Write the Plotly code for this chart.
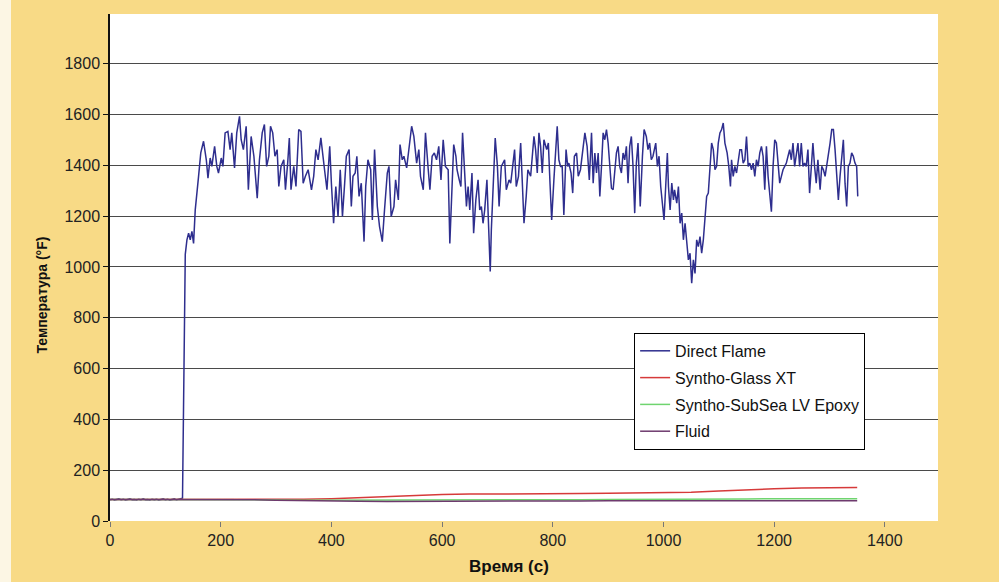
import plotly.graph_objects as go

# ---- Data ----
flame_time = [0, 4, 8, 12, 16, 20, 24, 28, 32, 36, 40, 44, 48, 52, 56, 60, 64, 68, 72, 76, 80, 84, 88, 92, 96, 100,
              104, 108, 112, 116, 120, 124, 128, 131,
              136, 139, 142, 145, 148, 151, 154, 157, 160, 164, 169, 174, 177, 181, 184, 189, 193, 196, 201, 204,
              208, 213, 217, 220, 225, 229, 234, 237, 241, 246, 250, 255, 260, 266, 270, 275, 279, 283, 287, 290,
              294, 298, 302, 305, 309, 314, 317, 321, 324, 327, 332, 336, 341, 345, 349, 353, 358,
              364, 368, 372, 376, 381, 385, 388, 392, 397, 400, 404, 408, 412, 416, 420, 424, 427, 432, 436, 439,
              443, 446, 450, 454, 459, 462, 466, 471, 474, 478, 483, 487, 492, 496, 501, 504, 508, 513, 516, 521,
              524, 528, 531, 536, 540, 545, 549, 554, 558, 561, 566, 570, 575, 578, 582, 586, 590, 594, 598, 602,
              606, 611, 614,
              617, 621, 625, 627, 631, 634, 637, 641, 644, 647, 650, 654, 657, 661, 665, 668, 671, 674, 677, 681,
              685, 687, 689, 692, 696, 700, 703, 707, 710, 713, 716, 721, 724, 728, 731, 734, 738, 742, 745, 748,
              752, 755, 760, 763, 766, 769, 772, 775, 778, 781, 784, 789, 792, 795, 798, 802, 805, 808, 811, 814,
              817, 820, 824, 827, 829, 833, 836, 839, 843, 846, 850, 854, 858, 862, 866,
              870, 873, 876, 879, 882, 885, 888, 891, 894, 897, 900, 903, 906, 909, 912, 915, 918, 921, 924, 927,
              930, 933, 936, 939, 942, 945, 948, 951, 954, 958, 962, 965, 969, 972, 975, 978, 981, 986, 989, 992,
              995, 998, 1001, 1004, 1007, 1009, 1012, 1015, 1018, 1020, 1024, 1027, 1030, 1033, 1036, 1039, 1042,
              1045, 1048, 1051, 1054, 1057, 1060, 1063, 1066, 1069, 1072, 1075, 1078, 1081, 1084, 1087, 1090, 1093,
              1096, 1099, 1102, 1105, 1108, 1111, 1115, 1118,
              1121, 1123, 1126, 1129, 1132, 1135, 1138, 1141, 1144, 1147, 1150, 1153, 1156, 1159, 1162, 1165, 1168,
              1171, 1174, 1177, 1180, 1183, 1186, 1189, 1192, 1195, 1198, 1201, 1204, 1207, 1210, 1213, 1216, 1219,
              1222, 1225, 1228, 1231, 1234, 1237, 1240, 1243, 1246, 1249, 1252, 1255, 1258, 1261, 1264, 1267, 1270,
              1273, 1276, 1279, 1283, 1286, 1289, 1292, 1295, 1298, 1301, 1304, 1307, 1310, 1313, 1316, 1319, 1322,
              1325, 1328, 1331, 1334, 1337, 1340, 1343, 1346, 1349, 1351]

flame_temp = [84, 86, 83, 85, 87, 84, 86, 83, 85, 87, 84, 85, 83, 86, 84, 87, 84, 85, 83, 86, 84, 86, 83, 85, 87, 84,
              86, 83, 85, 87, 84, 86, 88, 90,
              1050, 1107, 1133, 1107, 1140, 1093, 1225, 1304, 1357, 1449, 1495, 1422, 1350, 1429, 1396, 1475, 1396,
              1370, 1429, 1396, 1528, 1534, 1462, 1528, 1390, 1528, 1593, 1501, 1462, 1554, 1304, 1514, 1436, 1271,
              1422, 1528, 1561, 1396, 1436, 1554, 1528, 1436, 1462, 1317, 1396, 1422, 1304, 1409, 1508, 1304, 1396,
              1317, 1541, 1534, 1330, 1357, 1383,
              1304, 1357, 1462, 1422, 1508, 1422, 1376, 1304, 1475, 1330, 1172, 1317, 1199, 1383, 1199, 1330, 1436,
              1462, 1238, 1357, 1370, 1436, 1278, 1330, 1100, 1317, 1422, 1383, 1185, 1462, 1238, 1159, 1100, 1225,
              1370, 1396, 1199, 1238, 1343, 1264, 1482, 1422, 1436, 1390, 1462, 1554, 1514, 1409, 1462, 1357, 1304,
              1528, 1383, 1304, 1436, 1449, 1422, 1475, 1343, 1501, 1396, 1383, 1093,
              1264, 1482, 1436, 1383, 1343, 1317, 1528, 1357, 1238, 1317, 1225, 1370, 1133, 1264, 1343, 1225, 1238,
              1172, 1225, 1343, 1107, 982, 1146, 1291, 1508, 1396, 1238, 1396, 1409, 1422, 1304, 1343, 1330, 1422,
              1462, 1317, 1357, 1488, 1330, 1172, 1278, 1383, 1357, 1449, 1514, 1462, 1370, 1528, 1475, 1370, 1501,
              1462, 1488, 1330, 1185, 1343, 1462, 1554, 1422, 1396, 1396, 1205, 1462, 1396, 1409, 1370, 1291, 1436,
              1449, 1357, 1383, 1462, 1528, 1475, 1343,
              1528, 1330, 1449, 1370, 1449, 1278, 1396, 1528, 1501, 1541, 1488, 1396, 1310, 1304, 1396, 1449, 1475,
              1396, 1370, 1449, 1422, 1475, 1330, 1475, 1514, 1396, 1212, 1409, 1488, 1238, 1436, 1541, 1514, 1462,
              1488, 1422, 1436, 1488, 1396, 1436, 1317, 1238, 1185, 1317, 1449, 1317, 1225, 1330, 1264, 1304, 1251,
              1317, 1172, 1212, 1107, 1172, 1107, 1028, 1054, 936, 1028, 975, 1107, 1080, 1120, 1054, 1107, 1199,
              1278, 1291, 1396, 1488, 1462, 1383, 1396, 1488, 1528, 1541, 1567, 1488, 1449, 1396,
              1317, 1422, 1357, 1396, 1370, 1422, 1462, 1462, 1409, 1422, 1514, 1396, 1409, 1383, 1409, 1357, 1422,
              1396, 1449, 1475, 1436, 1304, 1475, 1357, 1291, 1218, 1396, 1501, 1488, 1396, 1330, 1357, 1383, 1396,
              1409, 1436, 1462, 1422, 1488, 1396, 1436, 1488, 1396, 1488, 1396, 1409, 1396, 1462, 1291, 1396, 1488,
              1396, 1330, 1422, 1304, 1396, 1383, 1357, 1396, 1436, 1488, 1541, 1541, 1462, 1343, 1264, 1357, 1436,
              1501, 1330, 1238, 1396, 1409, 1449, 1436, 1409, 1396, 1278]

slow_time = [0, 50, 100, 150, 200, 250, 300, 350, 400, 450, 500, 550, 600, 650, 700, 750, 800, 850, 900, 950,
             1000, 1050, 1100, 1150, 1200, 1250, 1300, 1350]
glass_temp = [85, 85, 85, 86, 86, 85, 85, 86, 88, 92, 96, 101, 104, 106, 106, 107, 108, 108, 109, 110,
              111, 113, 118, 123, 127, 130, 131, 132]
subsea_temp = [85, 85, 85, 85, 85, 84, 83, 82, 82, 82, 82, 82, 82, 82, 83, 83, 84, 84, 85, 85,
               86, 86, 87, 87, 88, 88, 88, 88]
fluid_temp = [85, 85, 85, 85, 85, 84, 82, 80, 79, 78, 77, 77, 77, 77, 77, 78, 79, 79, 80, 80,
              80, 80, 81, 81, 81, 81, 80, 80]

series_names = ["Direct Flame", "Syntho-Glass XT", "Syntho-SubSea LV Epoxy", "Fluid"]
series_colors = ["#2E2E8E", "#D63A3A", "#6FD46F", "#6E3A6E"]

x_ticks = [0, 200, 400, 600, 800, 1000, 1200, 1400]
y_ticks = [0, 200, 400, 600, 800, 1000, 1200, 1400, 1600, 1800]

FONT = "Liberation Sans, Arial, sans-serif"

fig = go.Figure()
fig.add_trace(go.Scatter(x=flame_time, y=flame_temp, mode="lines", name=series_names[0],
                         legendgroup="a", line=dict(color=series_colors[0], width=1.5)))
fig.add_trace(go.Scatter(x=slow_time, y=glass_temp, mode="lines", name=series_names[1],
                         legendgroup="b", line=dict(color=series_colors[1], width=1.5)))
fig.add_trace(go.Scatter(x=slow_time, y=subsea_temp, mode="lines", name=series_names[2],
                         legendgroup="c", line=dict(color=series_colors[2], width=1.5)))
fig.add_trace(go.Scatter(x=slow_time, y=fluid_temp, mode="lines", name=series_names[3],
                         legendgroup="d", line=dict(color=series_colors[3], width=1.5)))

fig.update_layout(
    width=999, height=582,
    margin=dict(l=110, r=61, t=14, b=61),
    paper_bgcolor="#F8DA86",
    plot_bgcolor="#FFFFFF",
    font=dict(family=FONT, size=16, color="#222222"),
    showlegend=True,
    legend=dict(x=0.633, y=0.371, xanchor="left", yanchor="top",
                bgcolor="#FFFFFF", bordercolor="#000000", borderwidth=1,
                font=dict(family=FONT, size=16, color="#111111"),
                itemwidth=30, tracegroupgap=3, traceorder="grouped"),
    xaxis=dict(range=[0, 1496], tickvals=x_ticks, ticktext=[str(v) for v in x_ticks],
               showgrid=False, zeroline=False, showline=False,
               ticks="outside", ticklen=5, tickcolor="#777777", tickwidth=1),
    yaxis=dict(range=[0, 1996], tickvals=y_ticks, ticktext=[str(v) for v in y_ticks],
               showgrid=True, gridcolor="#4A4A4A", gridwidth=1, zeroline=False,
               showline=True, linecolor="#111111", linewidth=1.5,
               ticks="outside", ticklen=5, tickcolor="#111111", tickwidth=1),
    annotations=[
        dict(text="<b>Время (с)</b>", x=0.482, y=-0.089, xref="paper", yref="paper",
             xanchor="center", yanchor="middle", showarrow=False,
             font=dict(family=FONT, size=17, color="#111111")),
        dict(text="<b>Температура (°F)</b>", x=-0.082, y=0.445, xref="paper", yref="paper",
             xanchor="center", yanchor="middle", showarrow=False, textangle=-90,
             font=dict(family=FONT, size=14, color="#111111")),
    ],
    shapes=[
        dict(type="rect", xref="paper", yref="paper", x0=-110 / 828, x1=-99 / 828,
             y0=-61 / 507, y1=535 / 507, fillcolor="#FCF6E4", line=dict(width=0), layer="below"),
    ],
)

fig.write_html("out.html", config={"displayModeBar": False},
               post_script="document.body.style.margin='0';document.body.style.padding='0';")
